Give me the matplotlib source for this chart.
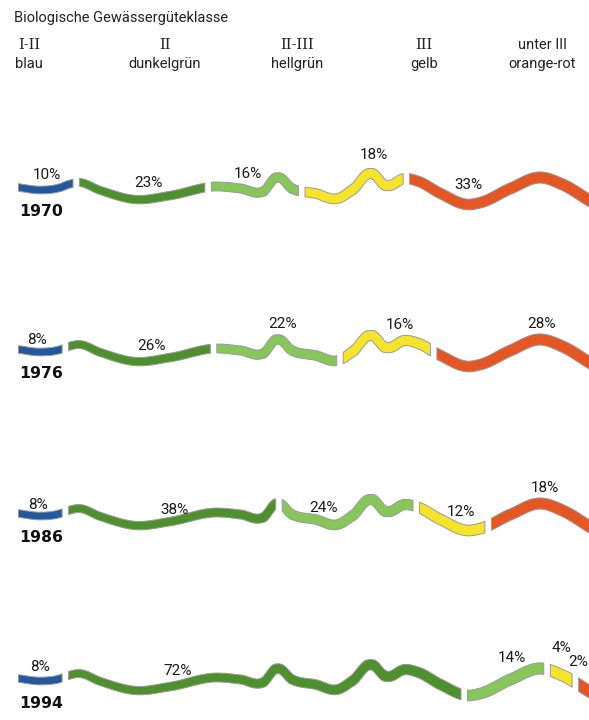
import numpy as np
import matplotlib
matplotlib.use("Agg")
import matplotlib.pyplot as plt

# Anteile der Gewässergüteklassen (%) je Jahr
YEARS = ["1970", "1976", "1986", "1994"]
CLASSES = ["I-II", "II", "II-III", "III", "unter III"]
CLASS_COLORS = ["blau", "dunkelgrün", "hellgrün", "gelb", "orange-rot"]
SHARE_1970 = [10, 23, 16, 18, 33]
SHARE_1976 = [8, 26, 22, 16, 28]
SHARE_1986 = [8, 38, 24, 12, 18]
SHARE_1994 = [8, 72, 14, 4, 2]
SHARES = [SHARE_1970, SHARE_1976, SHARE_1986, SHARE_1994]

COLORS = ["#23589f", "#4f902e", "#86c65a", "#f6e42b", "#e45623"]
EDGE = "#9a9a9a"

# Form des Flusses (Mittellinie, Pixel relativ zur Zeilenbasis)
RIVER_X = [18, 39, 60, 68, 78, 100, 135, 170, 215, 240, 262, 277, 292, 315, 337,
           352, 370, 386, 405, 418, 440, 468, 480, 510, 540, 562, 589]
RIVER_Y = [0, 2.5, 0, -3, -5, 3, 12, 8, -1, 1, 4, -10, 1, 6, 11,
           2, -14, -2, -9, -6, 6, 17, 15, 1, -10, -3, 13]

# Layout
ROW_BASE = [187, 349, 513, 678]
X0 = 18
PX_PER_PCT = 5.45
GAP = 6.5
LABEL_POS = [
    [(47, -12), (148, -4), (248, -13), (374, -32), (468, -2)],
    [(37, -9.5), (152, -2.5), (283, -25), (400, -24), (542, -25)],
    [(38, -8), (174, -3), (323, -5.5), (461, -0.5), (545, -25.5)],
    [(40, -11), (178, -7), (512, -20.5), (561, -30.5), (578, -16)],
]
HEAD_X = [29, 165, 297, 424, 542]


def river(x):
    px = np.array(RIVER_X, float)
    py = np.array(RIVER_Y, float)
    m = np.gradient(py, px)
    i = np.clip(np.searchsorted(px, x) - 1, 0, len(px) - 2)
    x0, x1 = px[i], px[i + 1]
    h = x1 - x0
    t = (x - x0) / h
    h00 = 2 * t**3 - 3 * t**2 + 1
    h10 = t**3 - 2 * t**2 + t
    h01 = -2 * t**3 + 3 * t**2
    h11 = t**3 - t**2
    return h00 * py[i] + h10 * h * m[i] + h01 * py[i + 1] + h11 * h * m[i + 1]


def half_width(x):
    xs = np.linspace(0, 600, 1201)
    slope = np.interp(x, xs, np.gradient(river(xs), xs))
    w = 7.5 + 4 * (x - 18) / 571
    return w / 2 * np.minimum(np.sqrt(1 + slope**2), 2.5)


fig = plt.figure(figsize=(5.89, 7.2), dpi=100)
ax = fig.add_axes([0, 0, 1, 1])
ax.set_xlim(0, 589)
ax.set_ylim(720, 0)
ax.axis("off")

sans = "Roboto"
ax.text(14, 18, "Biologische Gewässergüteklasse", fontsize=10.5, family=sans,
        color="#222222", va="center", ha="left")
for k in range(len(CLASSES)):
    fam = "DejaVu Serif" if k < 4 else sans
    ax.text(HEAD_X[k], 45, CLASSES[k], fontsize=10.5, family=fam,
            color="#222222", ha="center", va="center")
    ax.text(HEAD_X[k], 64, CLASS_COLORS[k], fontsize=10.5, family=sans,
            color="#222222", ha="center", va="center")

for r, shares in enumerate(SHARES):
    base = ROW_BASE[r]
    cum = 0
    for k, s in enumerate(shares):
        xa = X0 + cum * PX_PER_PCT + k * GAP
        xb = xa + s * PX_PER_PCT
        cum += s
        xs = np.linspace(xa, xb, 120)
        c = base + river(xs)
        hw = half_width(xs)
        ax.fill_between(xs, c - hw, c + hw, facecolor=COLORS[k],
                        edgecolor=EDGE, linewidth=0.7)
        lx, ly = LABEL_POS[r][k]
        ax.text(lx, base + ly, f"{s}%", fontsize=11, family=sans,
                color="#1a1a1a", ha="center", va="center")
    ax.text(19, base + 25, YEARS[r], fontsize=11.3, family="DejaVu Sans",
            fontweight="bold", color="#111111", ha="left", va="center")

fig.savefig("out.png", dpi=100)
